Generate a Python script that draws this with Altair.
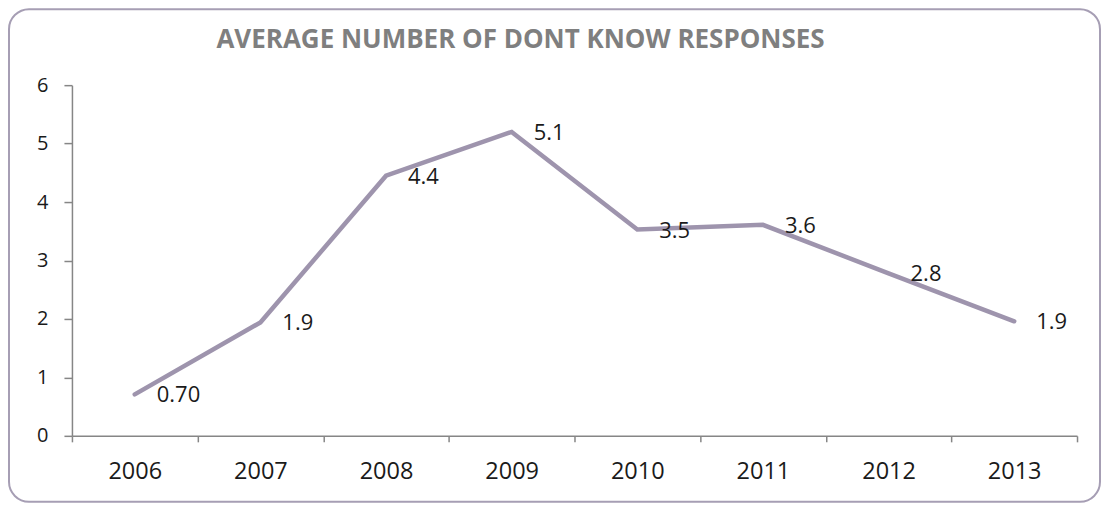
import altair as alt
import pandas as pd

years = ["2006", "2007", "2008", "2009", "2010", "2011", "2012", "2013"]
values = [0.71, 1.94, 4.45, 5.20, 3.53, 3.61, 2.78, 1.96]
value_labels = ["0.70", "1.9", "4.4", "5.1", "3.5", "3.6", "2.8", "1.9"]
y_ticks = [0, 1, 2, 3, 4, 5, 6]
title_text = "AVERAGE NUMBER OF DONT KNOW RESPONSES"

df = pd.DataFrame({"year": years, "value": values, "label": value_labels})
frame_df = pd.DataFrame({"k": [0]})

W, H = 1006, 351
PAD_L, PAD_T, PAD_R, PAD_B = 64, 77, 24, 67
AXIS_GRAY = "#868686"
FONT = "Open Sans"

x_enc = alt.X(
    "year:N",
    sort=years,
    title=None,
    scale=alt.Scale(type="band", paddingInner=0, paddingOuter=0),
    axis=alt.Axis(
        labelAngle=0, tickBand="extent", tickSize=6, labelPadding=18,
        labelFont=FONT, labelFontSize=23.5, labelColor="#1a1a1a",
        domainColor=AXIS_GRAY, tickColor=AXIS_GRAY, domainWidth=1.5, tickWidth=1.5,
        grid=False,
    ),
)
y_enc = alt.Y(
    "value:Q",
    title=None,
    scale=alt.Scale(domain=[0, 6], nice=False, zero=True),
    axis=alt.Axis(
        values=y_ticks, format="d", tickSize=8, labelPadding=16,
        labelFont=FONT, labelFontSize=20, labelColor="#1a1a1a",
        domainColor=AXIS_GRAY, tickColor=AXIS_GRAY, domainWidth=1.5, tickWidth=1.5,
        grid=False,
    ),
)

line = alt.Chart(df).mark_line(color="#9e94ad", strokeWidth=4.5, strokeCap="round", strokeJoin="miter").encode(
    x=x_enc, y=y_enc
)
labels = alt.Chart(df).mark_text(
    align="left", baseline="middle", dx=22, dy=1, font=FONT, fontSize=22, color="#1a1a1a"
).encode(x=alt.X("year:N", sort=years), y="value:Q", text="label:N")

frame = alt.Chart(frame_df).mark_rect(
    fillOpacity=0, stroke="#a69eb4", strokeWidth=2, cornerRadius=20
).encode(
    x=alt.value(-PAD_L + 1), x2=alt.value(W + PAD_R - 1),
    y=alt.value(-PAD_T + 1), y2=alt.value(H + PAD_B - 1),
)

chart = alt.layer(frame, line, labels).properties(
    width=W,
    height=H,
    padding={"left": PAD_L, "top": PAD_T, "right": PAD_R, "bottom": PAD_B},
    autosize=alt.AutoSizeParams(type="none"),
    title=alt.TitleParams(
        title_text, font=FONT, fontSize=26, fontWeight="bold", color="#7f7f7f",
        anchor="middle", dx=-54, offset=-45,
    ),
).configure_view(stroke=None)

chart.save("out.html", embed_options={"renderer": "svg", "actions": False})
